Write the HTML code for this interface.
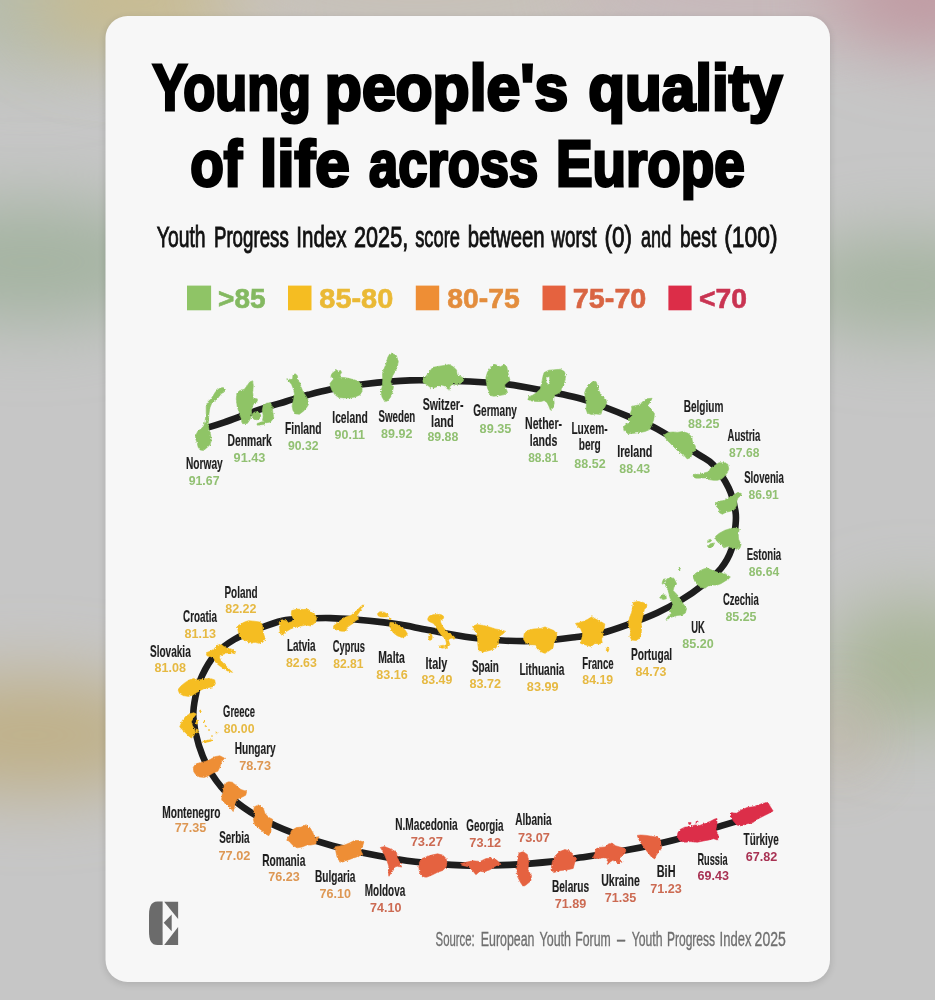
<!DOCTYPE html>
<html><head><meta charset="utf-8"><title>Young people's quality of life across Europe</title>
<style>
html,body{margin:0;padding:0;width:935px;height:1000px;overflow:hidden;background:#c6c6c6}
svg{display:block}
text{font-family:"Liberation Sans",Arial,sans-serif}
.t{font-weight:700;font-size:64px;fill:#000;stroke:#000;stroke-width:3.0px;stroke-linejoin:miter}
.sub{font-size:29.6px;fill:#111;stroke:#111;stroke-width:0.9px}
.lg{font-weight:700;font-size:27.5px;stroke-width:0.6px}
.n{font-weight:700;font-size:15.7px;fill:#1e1e1e;stroke:#1e1e1e;stroke-width:0.15px}
.s{font-weight:700;font-size:12.3px}
.src{font-size:19.6px;fill:#6f6f6f;stroke:#6f6f6f;stroke-width:0.35px}
</style></head>
<body>
<svg width="935" height="1000" viewBox="0 0 935 1000">
<defs>
<filter id="bl" x="-100%" y="-100%" width="300%" height="300%"><feGaussianBlur stdDeviation="35"/></filter>
<filter id="rough" x="-5%" y="-5%" width="110%" height="110%"><feTurbulence type="fractalNoise" baseFrequency="0.6" numOctaves="2" seed="3" result="n"/><feDisplacementMap in="SourceGraphic" in2="n" scale="2.6" xChannelSelector="R" yChannelSelector="G"/></filter>
<filter id="sh" x="-10%" y="-10%" width="120%" height="120%"><feGaussianBlur stdDeviation="3.5"/></filter>
</defs>
<rect width="935" height="1000" fill="#c6c6c6"/>
<ellipse cx="30" cy="0" rx="120" ry="70" fill="#b6bcac" opacity="1" filter="url(#bl)"/>
<ellipse cx="140" cy="0" rx="110" ry="50" fill="#c9bb8e" opacity="1" filter="url(#bl)"/>
<ellipse cx="420" cy="-10" rx="220" ry="35" fill="#c9bdad" opacity="0.8" filter="url(#bl)"/>
<ellipse cx="760" cy="-10" rx="200" ry="40" fill="#c8b0b3" opacity="0.8" filter="url(#bl)"/>
<ellipse cx="940" cy="-5" rx="110" ry="55" fill="#c09aa2" opacity="1" filter="url(#bl)"/>
<ellipse cx="30" cy="262" rx="150" ry="62" fill="#a5b4a2" opacity="1" filter="url(#bl)"/>
<ellipse cx="910" cy="285" rx="130" ry="50" fill="#a5b4a0" opacity="1" filter="url(#bl)"/>
<ellipse cx="30" cy="735" rx="150" ry="58" fill="#bfb088" opacity="1" filter="url(#bl)"/>
<ellipse cx="915" cy="665" rx="90" ry="65" fill="#a9b598" opacity="1" filter="url(#bl)"/>
<ellipse cx="840" cy="735" rx="25" ry="35" fill="#b9a88a" opacity="0.9" filter="url(#bl)"/>
<rect x="104.5" y="17.5" width="726.5" height="967" rx="23" fill="#000" opacity="0.11" filter="url(#sh)"/>
<rect x="105.5" y="16" width="724.5" height="966" rx="22" fill="#f7f7f7"/>
<text class="t" x="152.39" y="109.50" textLength="158.57" lengthAdjust="spacingAndGlyphs">Young</text>
<text class="t" x="324.86" y="109.50" textLength="243.47" lengthAdjust="spacingAndGlyphs">people's</text>
<text class="t" x="588.19" y="109.50" textLength="194.13" lengthAdjust="spacingAndGlyphs">quality</text>
<text class="t" x="190.20" y="185.50" textLength="51.83" lengthAdjust="spacingAndGlyphs">of</text>
<text class="t" x="260.05" y="185.50" textLength="89.71" lengthAdjust="spacingAndGlyphs">life</text>
<text class="t" x="369.03" y="185.50" textLength="169.19" lengthAdjust="spacingAndGlyphs">across</text>
<text class="t" x="555.90" y="185.50" textLength="188.98" lengthAdjust="spacingAndGlyphs">Europe</text>
<text class="sub" x="156.81" y="247.05" textLength="48.77" lengthAdjust="spacingAndGlyphs">Youth</text>
<text class="sub" x="213.91" y="247.05" textLength="74.88" lengthAdjust="spacingAndGlyphs">Progress</text>
<text class="sub" x="296.35" y="247.05" textLength="50.23" lengthAdjust="spacingAndGlyphs">Index</text>
<text class="sub" x="354.07" y="247.05" textLength="54.13" lengthAdjust="spacingAndGlyphs">2025,</text>
<text class="sub" x="415.15" y="247.05" textLength="44.89" lengthAdjust="spacingAndGlyphs">score</text>
<text class="sub" x="467.73" y="247.05" textLength="76.91" lengthAdjust="spacingAndGlyphs">between</text>
<text class="sub" x="551.20" y="247.05" textLength="45.38" lengthAdjust="spacingAndGlyphs">worst</text>
<text class="sub" x="604.44" y="247.05" textLength="27.55" lengthAdjust="spacingAndGlyphs">(0)</text>
<text class="sub" x="641.08" y="247.05" textLength="30.11" lengthAdjust="spacingAndGlyphs">and</text>
<text class="sub" x="679.89" y="247.05" textLength="36.50" lengthAdjust="spacingAndGlyphs">best</text>
<text class="sub" x="724.22" y="247.05" textLength="53.29" lengthAdjust="spacingAndGlyphs">(100)</text>
<text class="src" x="435.59" y="945.50" textLength="39.15" lengthAdjust="spacingAndGlyphs">Source:</text>
<text class="src" x="480.78" y="945.50" textLength="53.72" lengthAdjust="spacingAndGlyphs">European</text>
<text class="src" x="539.52" y="945.50" textLength="31.48" lengthAdjust="spacingAndGlyphs">Youth</text>
<text class="src" x="575.29" y="945.50" textLength="35.43" lengthAdjust="spacingAndGlyphs">Forum</text>
<text class="src" x="617.10" y="945.50" textLength="8.12" lengthAdjust="spacingAndGlyphs">–</text>
<text class="src" x="631.72" y="945.50" textLength="30.86" lengthAdjust="spacingAndGlyphs">Youth</text>
<text class="src" x="666.91" y="945.50" textLength="48.20" lengthAdjust="spacingAndGlyphs">Progress</text>
<text class="src" x="719.60" y="945.50" textLength="31.85" lengthAdjust="spacingAndGlyphs">Index</text>
<text class="src" x="754.60" y="945.50" textLength="31.19" lengthAdjust="spacingAndGlyphs">2025</text>
<rect x="187" y="285.6" width="24.1" height="24.7" fill="#8fc466"/>
<text class="lg" x="218.11" y="307.90" textLength="47.39" lengthAdjust="spacingAndGlyphs" fill="#84b961" stroke="#84b961">&gt;85</text>
<rect x="288" y="285.6" width="23.5" height="24.7" fill="#f5bd22"/>
<text class="lg" x="319.36" y="307.90" textLength="73.90" lengthAdjust="spacingAndGlyphs" fill="#eab935" stroke="#eab935">85-80</text>
<rect x="415.8" y="285.6" width="23.4" height="24.7" fill="#ee8e35"/>
<text class="lg" x="447.38" y="307.90" textLength="72.40" lengthAdjust="spacingAndGlyphs" fill="#e38d3d" stroke="#e38d3d">80-75</text>
<rect x="542.5" y="285.6" width="23" height="24.7" fill="#e5623f"/>
<text class="lg" x="572.88" y="307.90" textLength="73.48" lengthAdjust="spacingAndGlyphs" fill="#d96543" stroke="#d96543">75-70</text>
<rect x="668.4" y="285.6" width="23.2" height="24.7" fill="#dc2d48"/>
<text class="lg" x="699.10" y="307.90" textLength="47.97" lengthAdjust="spacingAndGlyphs" fill="#c93452" stroke="#c93452">&lt;70</text>
<path d="M208,427.4 C210.7,426.6 215.5,425.4 224.2,422.4 C232.9,419.4 249.9,412.8 260.2,409.3 C270.5,405.8 277.9,403.9 285.9,401.5 C293.9,399.1 300.9,396.8 308.3,394.8 C315.7,392.8 321.4,391.2 330,389.5 C338.6,387.8 346.4,386.1 359.7,384.6 C373,383.1 390.9,380.9 410,380.4 C429.1,379.9 458.1,381.1 474.2,381.7 C490.2,382.3 495.6,382.9 506.3,384.2 C517,385.5 525.8,387.2 538.3,389.6 C550.8,392 570.1,395.9 581.1,398.8 C592.1,401.7 596.5,404 604.4,407 C612.3,410 619.7,412.9 628.5,416.6 C637.3,420.3 645.9,422.9 657.4,429.1 C668.9,435.4 688.5,448.2 697.8,454.1 C707.1,460 708.1,459.1 713.2,464.7 C718.3,470.3 724.9,480.1 728.6,487.8 C732.3,495.5 734.3,504.5 735.4,510.9 C736.5,517.3 736,519.9 735.4,526.3 C734.8,532.7 733.9,542.4 731.5,549.4 C729.1,556.4 725.9,562.4 720.9,568.5 C715.9,574.6 708.1,580.7 701.7,585.8 C695.3,590.9 689.8,594.8 682.4,599.3 C675,603.8 666.4,608.6 657.4,612.8 C648.4,617 637.8,620.9 628.5,624.3 C619.2,627.7 610.3,630.9 601.6,633 C592.9,635.1 586.6,635.6 576.5,636.9 C566.4,638.2 553,640.1 541.2,640.7 C529.4,641.3 517.7,641.2 505.9,640.7 C494.1,640.2 483.6,639.4 470.6,637.6 C457.7,635.8 440,632.1 428.2,629.9 C416.4,627.7 407.4,625.9 400,624.6 C392.6,623.4 391.4,623.2 383.9,622.4 C376.4,621.5 363.9,620.2 355,619.5 C346.1,618.8 338.7,618.2 330.4,618.1 C322.1,618 313,618.2 305,618.6 C297,619 290.1,619 282.3,620.7 C274.5,622.4 266.2,625.7 258.2,628.8 C250.2,631.9 241.3,635.3 234.2,639.5 C227.1,643.7 220.8,648.2 215.5,654.2 C210.2,660.2 205.4,668.5 202.1,675.6 C198.8,682.7 196.8,690 195.4,697 C194,704 192.8,709.7 193.4,717.8 C194,725.9 195.9,736.3 198.9,745.6 C201.9,754.9 205.8,764.6 211.4,773.4 C217,782.2 224.2,791.1 232.3,798.5 C240.4,805.9 249.9,812.1 260.1,817.9 C270.3,823.7 281.4,828.6 293.5,833.2 C305.6,837.8 318.5,842 332.4,845.7 C346.3,849.4 363.1,852.8 376.9,855.5 C390.7,858.2 401.1,860.1 415.3,861.8 C429.6,863.4 446.7,864.9 462.4,865.4 C478.1,865.9 493.7,865.6 509.4,864.9 C525.1,864.2 544.7,862.3 556.5,861.1 C568.3,859.9 568.2,859.4 580,857.6 C591.8,855.8 611.4,853 627.1,850.1 C642.8,847.2 658.4,844 674.1,840 C689.8,836 709.4,829.4 721.2,825.9 C733,822.4 739.6,820.4 744.7,818.8 C749.8,817.2 750.8,816.9 752,816.5" fill="none" stroke="#1d1d1d" stroke-width="6.6" stroke-linejoin="round"/>
<g filter="url(#rough)">
<g fill="#8fc466" stroke="#8fc466" stroke-width="0.6" stroke-linejoin="round"><path fill-rule="evenodd" d="M195.4,436 197.8,431.2 201,428.8 203.8,426 205,421.6 206.2,413.6 206.2,406.4 208.2,401.6 210.6,399.2 213,396 215.4,392 217.8,389.6 220.2,388 223.4,387.6 225.4,389.6 224.2,392 221.4,393.6 219.4,396 217,399.2 214.6,400.8 211.4,404 209.8,408 209,413.6 208.6,418.4 208.2,424.8 209,429.6 210.6,434.4 211.4,440.8 209.8,444.8 206.6,448 203.4,450.4 200.2,450 198.2,447.2 197,442.4 195.8,439.2Z"/></g>
<g fill="#8fc466" stroke="#8fc466" stroke-width="0.6" stroke-linejoin="round"><path fill-rule="evenodd" d="M236.3,398.9 236.9,393.1 239.6,390.7 244.4,389.2 247.3,385.4 249.7,382 252.6,380.8 253.3,385.4 252.7,392.1 253.3,398.9 255.2,398.4 257.4,398.9 256.9,401.8 253.1,404.6 251.4,410.4 251.7,415.2 249.7,420 247.3,423.4 242.5,423.7 241.1,418.1 239.1,412.3 237.2,406.6ZM263.2,405.6 266.6,403.2 270.4,402.7 272.3,406.6 272.8,412.3 273.8,418.1 270.4,422 265.6,422.9 262.7,420 263.2,415.2 262.2,410.4Z"/><ellipse cx="256.3" cy="415.8" rx="4.4" ry="4" transform="rotate(0 256.3 415.8)"/><ellipse cx="262.5" cy="423.2" rx="3.6" ry="1.4" transform="rotate(-10 262.5 423.2)"/><ellipse cx="258.5" cy="424.2" rx="1.5" ry="1.2" transform="rotate(0 258.5 424.2)"/></g>
<g fill="#8fc466" stroke="#8fc466" stroke-width="0.6" stroke-linejoin="round"><path fill-rule="evenodd" d="M286.8,378.7 289.7,379.6 292.6,379.1 293,374.8 295.4,373.8 297.4,375.8 297.9,380.6 299.8,382.5 301.2,387.3 303.1,392.1 306,396 308,399.8 308.4,404.6 306,408.5 303.1,411.4 299.3,414.3 295.4,413.8 293,410.4 292.1,405.6 293.5,399.8 294.5,394.1 293.5,389.2 291.6,384.4 289.2,381.5 287.3,380.6Z"/></g>
<g fill="#8fc466" stroke="#8fc466" stroke-width="0.6" stroke-linejoin="round"><path fill-rule="evenodd" d="M330,383.5 333.8,378.7 339.6,377.2 345.4,377.7 350.2,378.7 355,380.1 358.9,381.6 361.8,385.4 362.2,391.2 359.8,395 355,397 349.2,397.9 343.5,397.9 338.7,397.5 334.8,394.6 331.9,390.2 330.5,386.4ZM330.8,376 332.2,373.2 334.5,371.5 336.5,369.8 338.2,371.2 340.6,370.4 341.6,372.6 340.2,374.6 341.2,376.6 338.5,377.6 335.5,378.2 333,378.6Z"/></g>
<g fill="#8fc466" stroke="#8fc466" stroke-width="0.6" stroke-linejoin="round"><path fill-rule="evenodd" d="M391.6,353.2 396.4,355.6 398.3,361.4 397.4,366.2 395.4,371 392.6,375.8 390.6,381.6 391.6,385.4 393.5,386.4 392.6,391.2 390.6,397 387.7,400.8 384.9,401.8 382,397 381,391.2 382.5,385.4 382.7,379.6 382.5,372.9 384.4,368.1 386.3,363.3 387.7,357.5 389.7,354.1Z"/></g>
<g fill="#8fc466" stroke="#8fc466" stroke-width="0.6" stroke-linejoin="round"><path fill-rule="evenodd" d="M422.8,379.6 426.6,375.3 429.8,371 433,367.3 439.4,366.2 445.8,365.2 449,364.6 453.3,366.8 456.5,370 457,374.8 460.8,376.4 464,378.5 462.9,381.7 459.7,383.9 456.5,384.4 453.3,383.9 450.1,386 449,390.3 446.9,388.2 444.7,386 441.5,384.9 437.3,386.6 433,388.2 429.8,387.1 426.6,384.4 423.3,382.8Z"/></g>
<g fill="#8fc466" stroke="#8fc466" stroke-width="0.6" stroke-linejoin="round"><path fill-rule="evenodd" d="M490.7,367.8 493.9,364.1 497.1,365.2 500.4,366.8 504.6,364.6 506.8,366.8 507.8,372.1 508.9,376.4 510,380.1 506.8,382.8 504.6,384.9 505.7,388.2 507.3,391.4 504.6,394.6 499.3,395.6 493.9,396.2 489.7,395.6 489.1,391.4 487.5,388.2 486.4,382.8 485.9,377.5 487.5,372.1 489.1,370Z"/></g>
<g fill="#8fc466" stroke="#8fc466" stroke-width="0.6" stroke-linejoin="round"><path fill-rule="evenodd" d="M544.1,372.6 548.9,370.2 554.7,369.7 560.5,369.2 564.3,371.6 565.8,375.5 564.8,380.3 563.9,385.1 561.5,388.5 560.5,391.8 557.6,393.8 554.7,394.7 553.8,398.6 554.2,403.4 552.8,408.2 550.4,410.1 548.9,406.3 547,402.4 544.1,400.5 541.2,401.5 536.4,401.5 531.6,401 527.8,399.5 529.2,396.6 532.6,395.2 536.4,392.8 540.3,389 541.7,383.2 542.7,377.4ZM546.1,377.4 549.4,376.4 549.9,381.2 548,385.1 546.1,383.2Z"/></g>
<g fill="#8fc466" stroke="#8fc466" stroke-width="0.6" stroke-linejoin="round"><path fill-rule="evenodd" d="M589.4,384.1 593.2,381.2 596.1,381.7 597.6,386.1 599,390.9 601.9,395.7 605.7,399.1 606.7,402.4 604.8,407.2 601.9,411.1 600.9,414.5 596.1,414 591.3,414.5 587.4,413 586,409.2 586.5,404.3 585.5,398.6 584.6,392.8 586,388.9Z"/></g>
<g fill="#8fc466" stroke="#8fc466" stroke-width="0.6" stroke-linejoin="round"><path fill-rule="evenodd" d="M631.5,406.4 636,405.5 640.5,404.6 642.3,401.9 646.8,398.7 652.1,398.3 650.3,401.9 647.6,405.5 651.2,409.1 654.4,413.6 653.9,419 652.1,424.3 649.4,429.7 645,431.5 640.5,432.4 634.2,433.3 627.9,433.8 624.3,430.6 623.4,427 626.1,424.3 630.6,422.5 628.8,419 631.5,416.3 630.6,412.7 631.9,409.1Z"/></g>
<g fill="#8fc466" stroke="#8fc466" stroke-width="0.6" stroke-linejoin="round"><path fill-rule="evenodd" d="M663.8,435.1 668.3,432.4 672.8,432 677.3,432.4 682.7,431.5 688.1,433.3 691.7,436.9 692.6,442.3 695.3,445.9 695.7,449.5 692.6,453.1 690.8,457.6 687.2,458.9 684.5,455.8 680.9,453.1 677.3,450.4 673.7,446.8 670.1,443.2 666.5,439.6Z"/></g>
<g fill="#8fc466" stroke="#8fc466" stroke-width="0.6" stroke-linejoin="round"><path fill-rule="evenodd" d="M692.8,475.8 694.9,474.1 699.7,474.5 703.8,473.1 708.6,471.7 710.6,468.3 714.7,465.6 718.9,462.8 724.3,462.8 727.8,464.2 728.8,469 727.1,473.1 724.3,476.5 721.6,478.9 717.5,480.3 713.4,480.3 709.3,479.6 706.5,477.9 702.4,477.9 698.3,478.2 694.9,477.9Z"/></g>
<g fill="#8fc466" stroke="#8fc466" stroke-width="0.6" stroke-linejoin="round"><path fill-rule="evenodd" d="M715.4,503.2 718.9,501.2 724.3,500.5 728.4,497.8 732.5,495.7 738,492.3 741.4,493.6 740.8,495.7 738,497.8 736.7,501.2 736.7,505.3 733.9,510.1 729.8,511.4 726.4,512.1 722.3,514.2 719.5,512.8 718.9,508.7 716.5,506.7Z"/></g>
<g fill="#8fc466" stroke="#8fc466" stroke-width="0.6" stroke-linejoin="round"><path fill-rule="evenodd" d="M715.6,536.3 719.3,533.3 724.5,530.4 730.4,528.5 736.3,528.1 739.3,528.9 738.2,534.8 738.6,539.2 741.1,544.4 740,548.1 736.3,549.2 731.9,547.8 727.5,546.6 723.7,547.8 722.3,544.4 718.6,542.9 716,540ZM707.5,546.6 710.4,543.7 714.5,542.9 713.4,545.9 709.7,548.5Z"/><ellipse cx="709.5" cy="540.8" rx="2" ry="1.2" transform="rotate(-20 709.5 540.8)"/></g>
<g fill="#8fc466" stroke="#8fc466" stroke-width="0.6" stroke-linejoin="round"><path fill-rule="evenodd" d="M692.7,576.3 695.6,573.3 699.3,571.1 703.8,568.9 707.5,568.1 710.4,569.6 714.1,571.1 718.6,572.6 723,573.3 726.7,574.8 730.4,577 728.2,579.2 724.5,581.4 720.8,583.7 717.1,585.1 712.6,585.1 708.2,585.9 705.2,588.1 701.5,587.7 697.8,585.1 694.9,581.4Z"/></g>
<g fill="#8fc466" stroke="#8fc466" stroke-width="0.6" stroke-linejoin="round"><path fill-rule="evenodd" d="M666.8,578.9 670.4,577.6 674,578.5 676.7,583.9 674,587 673.1,590.6 676.7,594.2 679.4,597.8 682.1,602.3 684.8,605.9 686.6,608.6 685.3,613.1 682.1,614.9 677.6,615.4 674,616.3 670.4,617.6 665.9,619.4 668.6,615.8 671.8,613.1 669.1,611.3 671.3,608.6 673.1,605 671.8,601.4 670,597.8 669.1,594.2 668.2,590.6 666.4,587 665,583.4ZM659.6,597.8 662.3,594.7 665.9,595.1 666.4,598.7 663.2,599.6Z"/><ellipse cx="663.5" cy="581.5" rx="0.9" ry="2.8" transform="rotate(20 663.5 581.5)"/><ellipse cx="679.5" cy="568.5" rx="0.8" ry="1.6" transform="rotate(20 679.5 568.5)"/></g>
<g fill="#f5bd22" stroke="#f5bd22" stroke-width="0.6" stroke-linejoin="round"><path fill-rule="evenodd" d="M633.5,602.3 638,601.4 642.5,602.3 646.6,604.1 647,606.8 644.3,609.5 643.4,614 642.1,619.4 641.2,623 641.6,628.4 641.2,633.8 639.4,638.3 636.2,640.6 631.7,640.1 629.9,636.5 630.8,631.1 629,626.6 628.6,622.1 629.9,616.7 631.7,612.2 632.6,606.8Z"/></g>
<g fill="#f5bd22" stroke="#f5bd22" stroke-width="0.6" stroke-linejoin="round"><path fill-rule="evenodd" d="M575.5,623.4 579.6,622.4 583.7,621.3 587.8,619.3 591.9,616.7 596,619.3 600.1,621.3 604.8,623.9 604.2,628.5 602.2,632.6 603.2,635.7 601.7,638.8 602.2,642.9 599.1,643.9 595,643.4 590.9,646.5 585.8,645 580.6,643.4 581.7,638.8 582.7,633.7 580.6,628.5 577.5,626.5Z"/><ellipse cx="607.6" cy="649.5" rx="1.2" ry="2.4" transform="rotate(10 607.6 649.5)"/></g>
<g fill="#f5bd22" stroke="#f5bd22" stroke-width="0.6" stroke-linejoin="round"><path fill-rule="evenodd" d="M524.2,633.7 527.2,630.6 533.4,629 540.6,628.5 544.7,627 548.8,628.5 553.9,630.6 557,633.7 556,638.8 553.9,642.9 552.9,648 548.8,651.1 544.7,653.2 540.6,651.6 537.5,649.1 536,645 530.3,644.6 525.7,642.8 523.4,639Z"/></g>
<g fill="#f5bd22" stroke="#f5bd22" stroke-width="0.6" stroke-linejoin="round"><path fill-rule="evenodd" d="M472.6,626.2 476.9,624.6 483.6,625.5 489.4,627 495.1,628.9 500.9,629.9 505.6,631.3 503,633.9 499.6,636 498.6,640 498.2,644.5 495.6,648.3 490.5,650.2 485.5,651.6 481,652.3 478.6,649.8 477.8,644.5 477.6,638.7 476.8,632.9 474.2,630.1Z"/></g>
<g fill="#f5bd22" stroke="#f5bd22" stroke-width="0.6" stroke-linejoin="round"><path fill-rule="evenodd" d="M427.8,618.5 429.2,616.1 431.6,615.1 435.5,614.5 438.8,614.2 441.2,614.7 443.4,616.1 443.7,618 442.2,619.5 440.3,620.4 440.8,622.8 442.2,625.7 444.6,629.1 447.5,632 450.9,634.4 453.8,636.3 455.2,638.2 454.2,639.2 451.4,638.2 449.4,638.7 448.5,640.6 449.4,643.1 449.9,644.5 448.5,646.4 446.5,648.3 445.1,648.8 444.6,646.9 446.1,645 446.3,642.6 445.6,639.7 443.7,637.3 441.2,634.9 439.3,632.5 437.9,630.1 436.4,627.7 435,625.2 433.1,623.3 430.7,622.2 428.7,621.2 427.8,620ZM439.3,646 443.5,645.2 444,647.9 440.8,648.3Z"/><ellipse cx="430.4" cy="637" rx="1.8" ry="3.2" transform="rotate(0 430.4 637)"/></g>
<g fill="#f5bd22" stroke="#f5bd22" stroke-width="0.6" stroke-linejoin="round"><path fill-rule="evenodd" d="M390,622.3 393.6,622.7 398.1,625 401.7,627.6 405.3,630.3 407.5,633.9 405.3,636.6 401.7,637.5 397.2,635.7 393.6,633 390.9,629.4 389.5,625.9ZM377.4,613.7 380.1,611.5 384.6,612.4 388.2,614.6 387.3,616.9 381.9,616.9 378.3,616Z"/><ellipse cx="390" cy="618.7" rx="1" ry="1" transform="rotate(0 390 618.7)"/></g>
<g fill="#f5bd22" stroke="#f5bd22" stroke-width="0.6" stroke-linejoin="round"><path fill-rule="evenodd" d="M333.4,625.9 337,623.2 341.5,619.6 346,616.9 351.4,615.1 356.8,610.6 361.2,606.1 363.9,604.3 362.1,607.9 358.5,613.3 356.8,616 359.4,618.7 355.9,620.5 353.2,623.2 350.5,625 346.9,627.6 346,631.2 341.5,631.2 337,630.3 334.3,628.5Z"/></g>
<g fill="#f5bd22" stroke="#f5bd22" stroke-width="0.6" stroke-linejoin="round"><path fill-rule="evenodd" d="M279.2,622.1 282,619.7 285.9,620.7 288.8,622.6 291.7,621.7 293.6,619.2 291.2,614.4 291.7,610.6 297.4,609.1 303.2,609.6 308,609.1 311.9,612.5 315.7,615.4 316.7,619.2 314.8,623.1 310.9,626 306.1,625 301.3,626 295.5,626.9 290.7,628.9 285.9,631.8 282,635.6 280.1,632.7 279.6,627.9Z"/></g>
<g fill="#f5bd22" stroke="#f5bd22" stroke-width="0.6" stroke-linejoin="round"><path fill-rule="evenodd" d="M237.3,626 240.7,624.1 244.5,622.1 248.4,620.7 254.1,621.2 259.9,622.1 262.3,625 262.8,629.8 263.8,634.6 265.2,638.5 262.8,642.3 258.9,643.3 255.1,642.3 251.2,643.3 247.4,641.4 242.6,639.5 239.7,636.6 238.3,631.8Z"/></g>
<g fill="#f5bd22" stroke="#f5bd22" stroke-width="0.6" stroke-linejoin="round"><path fill-rule="evenodd" d="M205.7,653 209.4,651.5 213.9,649.2 216.9,645.5 220.7,644 223.6,646.2 227.4,648.5 231.9,649.2 235.6,651.5 234.9,653.7 231.1,653 226.6,653 222.9,654.5 219.2,656.7 220.7,660.5 224.4,664.2 228.9,668.7 232.6,672.4 227.4,670.9 222.9,667.9 218.4,665 215.4,662 213.9,658.2 210.9,656.7 207.2,656Z"/></g>
<g fill="#f5bd22" stroke="#f5bd22" stroke-width="0.6" stroke-linejoin="round"><path fill-rule="evenodd" d="M178,689.6 181,685.9 184.7,682.9 189.2,679.9 193.7,678.4 197.4,679.9 201.9,679.5 205.7,678.8 210.2,678.4 214.7,679.9 215.4,683.7 213.5,686.7 209.4,687.4 204.9,688.2 200.4,690.4 196.7,692.6 193,694.9 188.5,696.4 183.2,695.6 179.5,693.4Z"/></g>
<g fill="#f5bd22" stroke="#f5bd22" stroke-width="0.6" stroke-linejoin="round"><path fill-rule="evenodd" d="M179.7,727 182.3,720.5 186.1,716 190.6,713.5 193.8,712.8 196.4,714.1 193.2,718 191.3,721.8 192.5,725.7 194.5,728.9 195.1,732.1 193.8,735.9 191.3,737.9 188.7,735.9 186.1,733.4 182.9,730.2Z"/><ellipse cx="207.3" cy="741.2" rx="5" ry="0.9" transform="rotate(-12 207.3 741.2)"/><ellipse cx="200.5" cy="711" rx="0.9" ry="0.9" transform="rotate(0 200.5 711)"/><ellipse cx="204.5" cy="721.5" rx="0.6" ry="0.6" transform="rotate(0 204.5 721.5)"/><ellipse cx="205.5" cy="726" rx="0.6" ry="0.6" transform="rotate(0 205.5 726)"/><ellipse cx="216.5" cy="733" rx="0.7" ry="0.7" transform="rotate(0 216.5 733)"/><ellipse cx="196.8" cy="722" rx="1" ry="2.2" transform="rotate(0 196.8 722)"/><ellipse cx="196.8" cy="731" rx="1" ry="2" transform="rotate(0 196.8 731)"/><ellipse cx="209" cy="730" rx="0.6" ry="0.6" transform="rotate(0 209 730)"/><ellipse cx="212" cy="736" rx="0.5" ry="0.5" transform="rotate(0 212 736)"/></g>
<g fill="#ee8e35" stroke="#ee8e35" stroke-width="0.6" stroke-linejoin="round"><path fill-rule="evenodd" d="M193.3,767.3 195.7,764 200.5,762.5 205.3,761.5 210.1,759.6 214.9,756.7 219.8,755.8 224.6,758.2 221.7,761.5 219.8,767.3 217.8,771.2 213,773.1 209.2,775.5 204.4,777.4 199.5,776.9 195.7,774.5 193.8,771.7Z"/></g>
<g fill="#ee8e35" stroke="#ee8e35" stroke-width="0.6" stroke-linejoin="round"><path fill-rule="evenodd" d="M224.6,783.7 228.4,781.8 232.3,782.2 236.1,785.6 240.9,789.5 246.7,791.4 245.7,795.2 241.9,797.2 237.1,799.1 235.2,802.9 234.2,807.7 233.2,811.6 230.3,807.7 226.5,804.9 221.7,800 222.2,794.3 223.6,789.5Z"/></g>
<g fill="#ee8e35" stroke="#ee8e35" stroke-width="0.6" stroke-linejoin="round"><path fill-rule="evenodd" d="M254.4,806.8 258.3,804.9 263.1,807.7 265,813.5 268.8,817.4 272.7,819.3 271.7,825.1 270.8,831.8 268.8,835.7 265,833.7 261.1,829.9 257.3,827 254.4,824.1 253.4,819.3 255.4,815.4 253.4,811.6Z"/></g>
<g fill="#ee8e35" stroke="#ee8e35" stroke-width="0.6" stroke-linejoin="round"><path fill-rule="evenodd" d="M286.8,839.2 289.7,835.3 291.6,830.5 296.4,827.6 301.2,827.1 306.1,824.7 309.9,827.6 312.8,832.4 314.7,837.2 319.1,836.8 316.6,841.1 315.7,844 310.9,845 307,845 302.2,846.9 297.4,847.8 293.5,845.9 289.7,842.1Z"/></g>
<g fill="#ee8e35" stroke="#ee8e35" stroke-width="0.6" stroke-linejoin="round"><path fill-rule="evenodd" d="M334.9,846.9 339.7,845.9 344.6,845 349.4,843 354.2,840.6 359,840.6 363.8,842.1 362.4,846.9 360.9,850.7 362.8,854.6 358,856.5 352.3,858.4 347.4,860.3 341.7,862.3 338.8,860.3 336.9,856.5 335.9,851.7Z"/></g>
<g fill="#e5623f" stroke="#e5623f" stroke-width="0.6" stroke-linejoin="round"><path fill-rule="evenodd" d="M380.3,847.4 384.6,846.6 388.8,848.3 393.1,850 396.5,852.5 397.4,857.7 399.1,861.1 401.7,867.1 397.4,866.2 394.8,867.1 393.1,870.5 390.5,873.9 388.8,876.5 388.4,871.4 388.8,866.2 387.1,861.1 384.6,855.1 382,850Z"/></g>
<g fill="#e5623f" stroke="#e5623f" stroke-width="0.6" stroke-linejoin="round"><path fill-rule="evenodd" d="M419.6,862 422.2,858.5 426.5,856.8 431.6,855.1 437.6,853.8 442.7,855.1 446.1,858.5 447,862.8 446.1,867.1 442.7,870.5 437.6,872.2 432.5,874.8 426.5,877.3 422.2,876.5 419.6,872.2 418.8,867.1Z"/></g>
<g fill="#e5623f" stroke="#e5623f" stroke-width="0.6" stroke-linejoin="round"><path fill-rule="evenodd" d="M460.6,863.6 466.1,862.2 473.1,860.8 480,861.5 485.6,858.7 491.2,858 496.7,860.1 500.9,864.3 495.3,866.3 489.8,869.8 484.2,871.9 480,871.2 475.9,874.7 473.1,871.2 468.9,867 463.3,865.6Z"/></g>
<g fill="#e5623f" stroke="#e5623f" stroke-width="0.6" stroke-linejoin="round"><path fill-rule="evenodd" d="M519,853.1 523.2,851.7 527.3,854.5 528.7,861.5 528,869.8 531.5,875.4 530.8,880.9 525.9,885.1 523.2,886.5 520.4,882.3 517.6,876.8 516.9,869.8 517.6,861.5 518.3,855.9Z"/></g>
<g fill="#e5623f" stroke="#e5623f" stroke-width="0.6" stroke-linejoin="round"><path fill-rule="evenodd" d="M552.4,861.5 555.1,855.9 559.3,851.7 564.9,849.6 570.4,851 573.2,855.9 576.7,858.7 574.6,862.9 573.2,868.4 567.7,869.8 560.7,870.5 553.7,872.6 551,869.8 551.7,865.6Z"/></g>
<g fill="#e5623f" stroke="#e5623f" stroke-width="0.6" stroke-linejoin="round"><path fill-rule="evenodd" d="M593.1,857.7 594.8,853.4 595.7,849.1 599.1,847.4 605.1,847 608.5,844 612,843.1 615.4,845.7 619.7,847 623.9,848.2 626.1,850.8 623.9,854.2 620.5,856.8 619.7,860.2 622.2,861.9 617.9,863.6 615.4,861.1 612.8,860.2 610.2,861.9 607.7,864.5 606.8,861.9 607.7,858.5 603.4,857.7 598.3,858.5Z"/></g>
<g fill="#e5623f" stroke="#e5623f" stroke-width="0.6" stroke-linejoin="round"><path fill-rule="evenodd" d="M637.2,835.4 641,835 646.2,835.4 651.3,836.3 656.4,837.1 659.9,838.8 660.7,843.1 661.6,848.2 659,851.7 656.4,855.1 654.7,858.9 651.3,856.8 647.9,852.5 644.5,848.2 641,843.1 638.5,838.8Z"/></g>
<g fill="#dc2d48" stroke="#dc2d48" stroke-width="0.6" stroke-linejoin="round"><path fill-rule="evenodd" d="M677.8,833 680.1,829.5 684.7,827.2 690.5,826.6 695.1,824.9 699.7,825.5 704.3,823.7 710.1,821.4 714.7,819.1 717,818.5 717,823.7 715.9,829.5 718.2,835.3 717.6,839.9 713.6,838.7 709,839.9 703.2,841 697.4,842.2 690.5,841.6 684.7,842.2 680.1,841 677.2,837.6Z"/><ellipse cx="690" cy="823.5" rx="1.5" ry="0.8" transform="rotate(-20 690 823.5)"/><ellipse cx="697" cy="822" rx="1.2" ry="0.7" transform="rotate(-20 697 822)"/></g>
<g fill="#dc2d48" stroke="#dc2d48" stroke-width="0.6" stroke-linejoin="round"><path fill-rule="evenodd" d="M730.9,812.7 736.7,813.3 741.3,809.9 747.1,807.6 755.2,806.4 762.1,803.5 767.9,802.4 770.2,806.4 773.1,811 769,813.3 764.4,815.6 757.5,819.1 752.9,822.6 747.1,823.7 741.3,826 736.7,824.9 733.2,820.8 730.9,816.8Z"/></g>
</g>
<g lengthAdjust="spacingAndGlyphs">
<text class="n" x="185.99" y="469.32" textLength="36.79" lengthAdjust="spacingAndGlyphs">Norway</text>
<text class="s" x="188.67" y="484.90" textLength="30.86" lengthAdjust="spacingAndGlyphs" fill="#91c072">91.67</text>
<text class="n" x="227.47" y="446.12" textLength="44.42" lengthAdjust="spacingAndGlyphs">Denmark</text>
<text class="s" x="233.55" y="461.90" textLength="31.89" lengthAdjust="spacingAndGlyphs" fill="#91c072">91.43</text>
<text class="n" x="285.08" y="434.43" textLength="36.51" lengthAdjust="spacingAndGlyphs">Finland</text>
<text class="s" x="287.97" y="449.60" textLength="30.59" lengthAdjust="spacingAndGlyphs" fill="#91c072">90.32</text>
<text class="n" x="332.28" y="422.82" textLength="35.42" lengthAdjust="spacingAndGlyphs">Iceland</text>
<text class="s" x="334.56" y="438.90" textLength="30.51" lengthAdjust="spacingAndGlyphs" fill="#91c072">90.11</text>
<text class="n" x="378.58" y="422.03" textLength="36.64" lengthAdjust="spacingAndGlyphs">Sweden</text>
<text class="s" x="381.09" y="437.90" textLength="31.38" lengthAdjust="spacingAndGlyphs" fill="#91c072">89.92</text>
<text class="n" x="422.76" y="410.43" textLength="40.71" lengthAdjust="spacingAndGlyphs">Switzer-</text>
<text class="n" x="431.10" y="426.82" textLength="22.75" lengthAdjust="spacingAndGlyphs">land</text>
<text class="s" x="427.40" y="441.00" textLength="30.97" lengthAdjust="spacingAndGlyphs" fill="#91c072">89.88</text>
<text class="n" x="473.27" y="416.43" textLength="43.61" lengthAdjust="spacingAndGlyphs">Germany</text>
<text class="s" x="479.59" y="432.70" textLength="31.76" lengthAdjust="spacingAndGlyphs" fill="#91c072">89.35</text>
<text class="n" x="525.06" y="429.23" textLength="37.10" lengthAdjust="spacingAndGlyphs">Nether-</text>
<text class="n" x="529.84" y="446.12" textLength="27.53" lengthAdjust="spacingAndGlyphs">lands</text>
<text class="s" x="528.21" y="462.10" textLength="29.92" lengthAdjust="spacingAndGlyphs" fill="#91c072">88.81</text>
<text class="n" x="571.39" y="434.03" textLength="36.26" lengthAdjust="spacingAndGlyphs">Luxem-</text>
<text class="n" x="578.72" y="450.12" textLength="21.99" lengthAdjust="spacingAndGlyphs">berg</text>
<text class="s" x="574.39" y="468.00" textLength="31.28" lengthAdjust="spacingAndGlyphs" fill="#91c072">88.52</text>
<text class="n" x="617.15" y="456.53" textLength="35.29" lengthAdjust="spacingAndGlyphs">Ireland</text>
<text class="s" x="619.30" y="472.50" textLength="30.93" lengthAdjust="spacingAndGlyphs" fill="#91c072">88.43</text>
<text class="n" x="683.69" y="411.93" textLength="39.76" lengthAdjust="spacingAndGlyphs">Belgium</text>
<text class="s" x="688.09" y="427.60" textLength="31.25" lengthAdjust="spacingAndGlyphs" fill="#91c072">88.25</text>
<text class="n" x="727.54" y="441.43" textLength="32.72" lengthAdjust="spacingAndGlyphs">Austria</text>
<text class="s" x="729.11" y="456.70" textLength="30.26" lengthAdjust="spacingAndGlyphs" fill="#91c072">87.68</text>
<text class="n" x="744.19" y="482.82" textLength="39.67" lengthAdjust="spacingAndGlyphs">Slovenia</text>
<text class="s" x="748.61" y="498.50" textLength="30.23" lengthAdjust="spacingAndGlyphs" fill="#91c072">86.91</text>
<text class="n" x="746.63" y="559.92" textLength="34.54" lengthAdjust="spacingAndGlyphs">Estonia</text>
<text class="s" x="748.80" y="575.70" textLength="30.46" lengthAdjust="spacingAndGlyphs" fill="#91c072">86.64</text>
<text class="n" x="722.90" y="604.92" textLength="35.78" lengthAdjust="spacingAndGlyphs">Czechia</text>
<text class="s" x="725.40" y="620.70" textLength="31.15" lengthAdjust="spacingAndGlyphs" fill="#91c072">85.25</text>
<text class="n" x="691.21" y="632.62" textLength="13.60" lengthAdjust="spacingAndGlyphs">UK</text>
<text class="s" x="682.29" y="648.00" textLength="31.41" lengthAdjust="spacingAndGlyphs" fill="#91c072">85.20</text>
<text class="n" x="630.89" y="659.52" textLength="41.26" lengthAdjust="spacingAndGlyphs">Portugal</text>
<text class="s" x="635.40" y="675.60" textLength="31.04" lengthAdjust="spacingAndGlyphs" fill="#e6b942">84.73</text>
<text class="n" x="582.13" y="668.62" textLength="31.43" lengthAdjust="spacingAndGlyphs">France</text>
<text class="s" x="582.30" y="684.30" textLength="30.83" lengthAdjust="spacingAndGlyphs" fill="#e6b942">84.19</text>
<text class="n" x="519.39" y="674.82" textLength="44.98" lengthAdjust="spacingAndGlyphs">Lithuania</text>
<text class="s" x="526.89" y="690.70" textLength="31.76" lengthAdjust="spacingAndGlyphs" fill="#e6b942">83.99</text>
<text class="n" x="471.88" y="672.02" textLength="27.05" lengthAdjust="spacingAndGlyphs">Spain</text>
<text class="s" x="469.49" y="688.10" textLength="31.69" lengthAdjust="spacingAndGlyphs" fill="#e6b942">83.72</text>
<text class="n" x="425.54" y="668.82" textLength="21.75" lengthAdjust="spacingAndGlyphs">Italy</text>
<text class="s" x="421.40" y="684.30" textLength="30.93" lengthAdjust="spacingAndGlyphs" fill="#e6b942">83.49</text>
<text class="n" x="378.17" y="662.52" textLength="26.69" lengthAdjust="spacingAndGlyphs">Malta</text>
<text class="s" x="376.19" y="678.60" textLength="31.45" lengthAdjust="spacingAndGlyphs" fill="#e6b942">83.16</text>
<text class="n" x="332.80" y="652.12" textLength="32.10" lengthAdjust="spacingAndGlyphs">Cyprus</text>
<text class="s" x="333.21" y="667.80" textLength="30.23" lengthAdjust="spacingAndGlyphs" fill="#e6b942">82.81</text>
<text class="n" x="286.91" y="651.32" textLength="28.54" lengthAdjust="spacingAndGlyphs">Latvia</text>
<text class="s" x="285.90" y="667.10" textLength="30.93" lengthAdjust="spacingAndGlyphs" fill="#e6b942">82.63</text>
<text class="n" x="224.40" y="597.92" textLength="33.28" lengthAdjust="spacingAndGlyphs">Poland</text>
<text class="s" x="225.19" y="613.30" textLength="31.28" lengthAdjust="spacingAndGlyphs" fill="#e6b942">82.22</text>
<text class="n" x="183.08" y="622.32" textLength="33.87" lengthAdjust="spacingAndGlyphs">Croatia</text>
<text class="s" x="184.49" y="638.00" textLength="31.55" lengthAdjust="spacingAndGlyphs" fill="#e6b942">81.13</text>
<text class="n" x="149.97" y="656.52" textLength="40.78" lengthAdjust="spacingAndGlyphs">Slovakia</text>
<text class="s" x="154.59" y="672.30" textLength="31.49" lengthAdjust="spacingAndGlyphs" fill="#e6b942">81.08</text>
<text class="n" x="223.10" y="717.32" textLength="31.95" lengthAdjust="spacingAndGlyphs">Greece</text>
<text class="s" x="223.70" y="732.90" textLength="30.79" lengthAdjust="spacingAndGlyphs" fill="#e6b942">80.00</text>
<text class="n" x="234.69" y="754.32" textLength="41.00" lengthAdjust="spacingAndGlyphs">Hungary</text>
<text class="s" x="239.26" y="769.70" textLength="31.68" lengthAdjust="spacingAndGlyphs" fill="#dd9753">78.73</text>
<text class="n" x="162.19" y="817.72" textLength="58.24" lengthAdjust="spacingAndGlyphs">Montenegro</text>
<text class="s" x="174.66" y="832.40" textLength="31.58" lengthAdjust="spacingAndGlyphs" fill="#dd9753">77.35</text>
<text class="n" x="219.18" y="842.92" textLength="30.30" lengthAdjust="spacingAndGlyphs">Serbia</text>
<text class="s" x="218.46" y="859.50" textLength="32.02" lengthAdjust="spacingAndGlyphs" fill="#dd9753">77.02</text>
<text class="n" x="262.19" y="865.82" textLength="43.17" lengthAdjust="spacingAndGlyphs">Romania</text>
<text class="s" x="268.37" y="881.20" textLength="31.48" lengthAdjust="spacingAndGlyphs" fill="#dd9753">76.23</text>
<text class="n" x="314.99" y="882.02" textLength="40.47" lengthAdjust="spacingAndGlyphs">Bulgaria</text>
<text class="s" x="319.47" y="897.60" textLength="31.44" lengthAdjust="spacingAndGlyphs" fill="#dd9753">76.10</text>
<text class="n" x="364.80" y="895.52" textLength="40.46" lengthAdjust="spacingAndGlyphs">Moldova</text>
<text class="s" x="370.07" y="911.60" textLength="31.33" lengthAdjust="spacingAndGlyphs" fill="#cc6a52">74.10</text>
<text class="n" x="395.19" y="829.72" textLength="62.46" lengthAdjust="spacingAndGlyphs">N.Macedonia</text>
<text class="s" x="410.65" y="845.90" textLength="32.30" lengthAdjust="spacingAndGlyphs" fill="#cc6a52">73.27</text>
<text class="n" x="466.28" y="831.12" textLength="37.18" lengthAdjust="spacingAndGlyphs">Georgia</text>
<text class="s" x="469.36" y="846.90" textLength="31.82" lengthAdjust="spacingAndGlyphs" fill="#cc6a52">73.12</text>
<text class="n" x="515.32" y="825.32" textLength="36.25" lengthAdjust="spacingAndGlyphs">Albania</text>
<text class="s" x="518.06" y="841.50" textLength="31.88" lengthAdjust="spacingAndGlyphs" fill="#cc6a52">73.07</text>
<text class="n" x="551.89" y="891.62" textLength="37.15" lengthAdjust="spacingAndGlyphs">Belarus</text>
<text class="s" x="554.76" y="908.00" textLength="31.58" lengthAdjust="spacingAndGlyphs" fill="#cc6a52">71.89</text>
<text class="n" x="601.14" y="885.52" textLength="38.74" lengthAdjust="spacingAndGlyphs">Ukraine</text>
<text class="s" x="604.87" y="901.60" textLength="31.48" lengthAdjust="spacingAndGlyphs" fill="#cc6a52">71.35</text>
<text class="n" x="656.74" y="877.22" textLength="18.82" lengthAdjust="spacingAndGlyphs">BiH</text>
<text class="s" x="650.16" y="893.30" textLength="31.58" lengthAdjust="spacingAndGlyphs" fill="#cc6a52">71.23</text>
<text class="n" x="697.46" y="864.72" textLength="30.12" lengthAdjust="spacingAndGlyphs">Russia</text>
<text class="s" x="697.53" y="880.20" textLength="31.41" lengthAdjust="spacingAndGlyphs" fill="#a83253">69.43</text>
<text class="n" x="743.58" y="845.22" textLength="35.29" lengthAdjust="spacingAndGlyphs">Türkiye</text>
<text class="s" x="745.83" y="860.70" textLength="31.55" lengthAdjust="spacingAndGlyphs" fill="#a83253">67.82</text>
</g>
<g fill="#6b6b6b">
<path d="M162.6,901.6 H157.5 C151.2,901.6 149,906.5 149,915 V931.5 C149,940.2 151.2,945.1 157.5,945.1 H162.6 Z"/>
<path d="M164.2,901.8 H178.1 V918.9 Z"/>
<path d="M163.7,922.8 L171.7,914.6 V931.2 Z"/>
<path d="M164.2,945.1 H178.1 V926.9 Z"/>
</g>
</svg>
</body></html>
